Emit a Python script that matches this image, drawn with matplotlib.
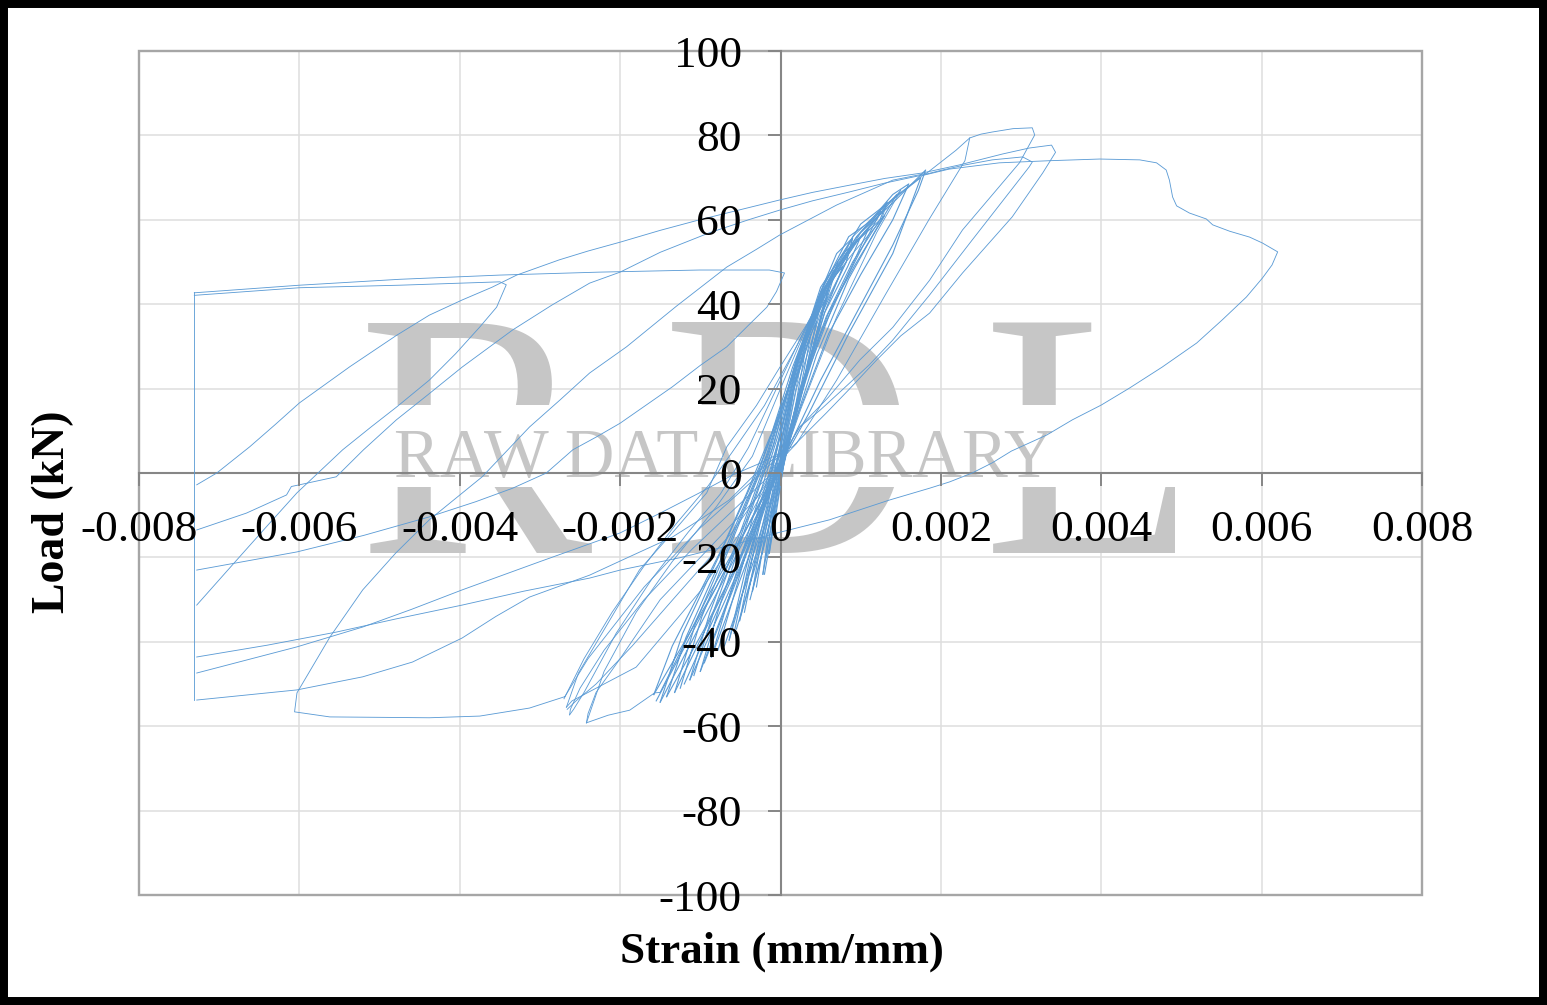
import matplotlib
matplotlib.use("Agg")
import matplotlib.pyplot as plt
from matplotlib.patches import Rectangle
from matplotlib.transforms import Bbox
import numpy as np

W, H = 1547, 1005
LINE = "#5B9BD5"
AXIS = "#868686"
GRID = "#DEDEDE"
MARK = "#C6C6C6"
SERIF = "Liberation Serif"

x_ticks = [-0.008, -0.006, -0.004, -0.002, 0, 0.002, 0.004, 0.006, 0.008]
x_tick_labels = ["-0.008", "-0.006", "-0.004", "-0.002", "0", "0.002", "0.004", "0.006", "0.008"]
y_ticks = [-100, -80, -60, -40, -20, 0, 20, 40, 60, 80, 100]
y_tick_labels = [str(v) for v in y_ticks]

# Strain is stored in units of 0.001 mm/mm, load in kN.
inner_strain = [
    [-0.10, -0.03, 0.06, 0.18, 0.30, 0.17, 0.04, -0.05, -0.14],
    [-0.14, -0.07, 0.03, 0.17, 0.32, 0.45, 0.27, 0.06, -0.08, -0.22],
    [-0.18, -0.08, 0.04, 0.18, 0.38, 0.24, 0.05, -0.07, -0.20],
    [-0.22, -0.13, -0.02, 0.14, 0.33, 0.55, 0.36, 0.10, -0.10, -0.35],
    [-0.30, -0.18, -0.05, 0.12, 0.32, 0.50, 0.30, 0.08, -0.12, -0.38],
    [-0.35, -0.22, -0.08, 0.10, 0.30, 0.62, 0.42, 0.12, -0.14, -0.51],
    [-0.45, -0.28, -0.10, 0.12, 0.32, 0.60, 0.40, 0.10, -0.12, -0.28, -0.55],
    [-0.51, -0.34, -0.16, 0.06, 0.28, 0.52, 0.78, 0.55, 0.18, -0.10, -0.35, -0.64],
    [-0.58, -0.40, -0.18, 0.05, 0.26, 0.50, 0.66, 0.45, 0.15, -0.06, -0.30, -0.70],
    [-0.64, -0.45, -0.22, 0.03, 0.25, 0.50, 0.70, 0.90, 0.82, 0.52, 0.20, -0.05, -0.40, -0.86],
    [-0.78, -0.55, -0.28, -0.02, 0.22, 0.52, 0.72, 0.48, 0.18, -0.02, -0.30, -0.60, -0.95],
    [-0.86, -0.62, -0.32, -0.03, 0.23, 0.50, 0.78, 1.00, 0.84, 0.55, 0.22, 0.02, -0.45, -1.00],
    [-1.00, -0.75, -0.42, -0.08, 0.20, 0.48, 0.85, 1.15, 1.33, 1.24, 0.90, 0.57, 0.24, 0.05, -0.50, -1.13],
    [-1.08, -0.82, -0.46, -0.10, 0.21, 0.50, 0.82, 1.10, 0.82, 0.50, 0.20, 0.02, -0.42, -0.75, -1.20],
    [-1.13, -0.88, -0.50, -0.12, 0.20, 0.55, 0.90, 1.30, 0.92, 0.60, 0.25, 0.03, -0.60, -1.32],
    [-1.25, -0.98, -0.58, -0.15, 0.19, 0.52, 0.95, 1.25, 0.98, 0.66, 0.30, 0.06, -0.50, -0.95, -1.42],
    [-1.32, -1.05, -0.62, -0.18, 0.18, 0.55, 0.95, 1.40, 1.60, 1.40, 1.00, 0.60, 0.22, 0.00, -0.70, -1.50],
    [-1.42, -1.18, -0.78, -0.30, 0.12, 0.50, 0.95, 1.45, 1.20, 0.85, 0.45, 0.08, -0.55, -1.05, -1.55],
    [-1.50, -1.22, -0.75, -0.25, 0.15, 0.55, 1.00, 1.40, 1.81, 1.72, 1.40, 0.95, 0.50, 0.10, -0.20, -0.80, -1.58],
    [-1.58, -1.35, -1.01, -0.72, -0.42, -0.10, 0.15, 0.55, 1.00, 1.75, 1.40, 0.85, 0.35, 0.03, -0.30, -0.90, -1.50],
]
inner_load = [
    [-13, -3, 10, 22, 28, 14, 2, -9, -19],
    [-19, -8, 5, 20, 30, 36, 20, 4, -9, -24],
    [-20, -8, 6, 21, 33, 19, 3, -10, -24],
    [-24, -11, 2, 18, 32, 41, 26, 7, -9, -28],
    [-27, -13, 1, 17, 31, 40, 23, 5, -11, -30],
    [-28, -14, 0, 16, 31, 45, 30, 8, -9, -35],
    [-33, -17, -2, 17, 31, 44, 29, 7, -9, -20, -37],
    [-35, -19, -4, 14, 31, 43, 49, 38, 14, -5, -20, -39.6],
    [-38, -22, -5, 13, 29, 42, 48, 33, 11, -3, -19, -41],
    [-39.6, -24, -7, 12, 29, 43, 52, 55.7, 50, 38, 16, 0, -20, -43.6],
    [-42, -27, -9, 8, 27, 42, 50, 35, 14, 1, -13, -28, -45],
    [-43.6, -28, -9, 9, 28, 44, 52, 56, 49, 38, 18, 3, -20, -47],
    [-47, -31, -12, 7, 27, 42, 56, 60, 64.2, 60, 50, 37, 20, 5, -22, -49],
    [-48, -32, -13, 6, 27, 42, 52, 58, 46, 33, 15, 2, -17, -31, -50],
    [-49, -33, -14, 6, 27, 44, 54, 61, 49, 38, 20, 4, -24, -52],
    [-51, -34, -15, 5, 26, 43, 56, 62, 52, 40, 22, 5, -20, -37, -53],
    [-52, -35, -16, 4, 25, 44, 56, 66, 68.5, 60, 47, 33, 14, 1, -25, -54.3],
    [-53, -39, -22, -1, 21, 41, 55, 66, 58, 46, 28, 6, -18, -36, -54],
    [-54.3, -38, -19, 2, 23, 43, 57, 64, 71.8, 67, 54, 38, 22, 6, -5, -27, -52.5],
    [-52.5, -41, -28.4, -17.5, -4.7, 10, 25, 45, 59, 70, 52, 33, 14, 3, -9, -29, -52],
]

# Wide cycles with their compression lobes near -0.0027.
lobe_strain = [
    [-2.67, -2.52, -2.18, -1.76, -1.35, -0.92, -0.67, -0.30, -0.01, 0.52, 0.86, 1.20, 1.33, 1.26, 0.90, 0.57, 0.24, 0.07, -0.10, -0.60, -1.10, -1.70, -2.20, -2.50, -2.62, -2.63],
    [-2.63, -2.58, -2.45, -2.05, -1.60, -1.15, -0.75, -0.40, 0.00, 0.35, 0.60, 0.90, 0.82, 0.50, 0.20, 0.05, -0.30, -0.90, -1.50, -2.00, -2.30, -2.40, -2.42],
    [-1.50, -1.57, -1.88, -2.15, -2.42],
    [2.36, 2.30, 1.85, 1.30, 0.70, 0.20, 0.00, -0.50, -1.00, -1.80, -2.30, -2.60, -2.67],
    [-2.70, -2.45, -2.10, -1.70, -1.30, -0.90, -0.60, -0.20, 0.20, 0.60, 1.00, 1.50, 1.20, 0.70, 0.25, 0.03, -0.60, -1.25, -1.85, -2.30, -2.55, -2.66],
]
lobe_load = [
    [-55.5, -47.4, -36.5, -23, -14.2, -4.7, 6.2, 16, 25, 41, 53, 60, 64.2, 60, 52, 44, 24.4, 8.5, 0, -9, -18, -30, -42, -51, -56, -57.3],
    [-57.3, -56, -52, -38, -25, -14, -5, 6, 22, 36, 45, 55.7, 50, 38, 20, 6, -6, -18, -30, -44, -52, -57, -59.2],
    [-52, -52.1, -56.2, -57.4, -59.2],
    [79.4, 74, 60, 42, 22, 7, 3, -14, -28, -46, -51, -54, -55.5],
    [-53.5, -44, -33, -22, -12, -3, 5, 16, 30, 45, 56, 67, 57, 37, 15, 3, -14, -28, -41, -50, -54, -56],
]

# Main monotonic rise to the peak, softening, then the long unloading branch.
main_strain = [-2.42, -2.20, -1.80, -1.35, -0.80, -0.35, 0.00, 0.45, 0.90, 1.40, 1.77, 2.10, 2.73, 3.35, 3.98, 4.48, 4.69, 4.81, 4.85, 4.89, 4.94, 5.10, 5.31, 5.39, 5.60, 5.85, 6.01, 6.20,
               6.13, 6.01, 5.81, 5.51, 5.19, 4.76, 4.35, 4.00, 3.64, 3.32, 3.10, 2.88, 2.64, 2.39, 2.11, 1.86, 1.36, 0.61, 0.00, -0.51, -1.26, -2.00, -2.38, -3.20, -3.97, -4.80, -5.54, -6.40, -7.28]
main_load = [-59.2, -47, -33, -21, -8, 4, 20, 40, 56, 65, 70.5, 72, 73.5, 74, 74.4, 74.2, 73.5, 71.8, 69.4, 65.4, 63.3, 61.6, 60.2, 58.8, 57.3, 55.9, 54.5, 52.4,
             49.3, 46.2, 41.7, 36.3, 30.8, 25.1, 20.1, 16.1, 12.6, 9, 7.1, 5.2, 2.4, 0, -2.1, -3.6, -6.4, -11.1, -14, -16.6, -20.1, -23, -24.9, -28, -31.3, -34.6, -37.7, -40.8, -43.6]

# Instrument limit on the compression side.
wall_strain = [-7.31, -7.31]
wall_load = [42.9, -53.9]

band_top_strain = [-7.31, -6.00, -4.75, -3.50, -2.26, -1.01, -0.14, 0.05,
                   -0.05, -0.17, -0.40, -0.67, -1.00, -1.35, -2.00, -2.30, -2.59, -2.92, -3.34, -3.80, -4.38, -5.20, -6.03, -7.28]
band_top_load = [42.7, 44.5, 45.9, 46.9, 47.6, 48.1, 48.1, 47.4,
                 43, 39.3, 35, 29.9, 25.5, 20.4, 11.8, 8.5, 5.5, 0, -3.6, -6.8, -10.4, -14.8, -18.7, -23]

band_second_strain = [-7.31, -6.00, -4.75, -3.50, -3.42, -3.54, -3.75, -4.05, -4.38, -4.79, -5.10, -5.46, -6.03, -6.40, -6.78, -7.28]
band_second_load = [42.1, 43.9, 44.5, 45.3, 44.6, 39.3, 34.6, 28.3, 22, 15.6, 11, 5.5, -4.7, -12.5, -20.6, -31.3]

reload_a_strain = [-7.28, -7.03, -6.62, -6.30, -6.00, -5.37, -4.79, -4.38, -3.97, -3.60, -3.29, -2.76, -2.40, -2.00, -1.50, -1.01, -0.50, -0.01, 0.40, 0.86, 1.30, 1.77, 2.23, 2.77, 3.10, 3.38, 3.43,
                   3.27, 2.89, 2.27, 1.86, 1.50, 1.20, 0.85, 0.57, 0.15, 0.05, -0.30, -0.64, -1.00, -1.35, -1.97, -2.38, -3.13, -3.55, -3.97, -4.59, -5.21, -6.03, -7.28]
reload_a_load = [-2.8, 0, 6.2, 11.5, 16.6, 25.2, 32.6, 37.4, 41, 44, 46.9, 50.5, 52.6, 54.7, 57.5, 60, 62.4, 64.7, 66.5, 68.2, 69.8, 71.1, 73, 75.6, 77, 77.7, 76,
                 71.1, 60.7, 47.4, 37.9, 32.5, 26.8, 19.7, 14.2, 6.2, 5.5, 0, -6.4, -11, -15.2, -20.6, -24.2, -29.4, -34, -39.1, -44.8, -48.3, -51.4, -53.8]

reload_b_strain = [-7.28, -6.66, -6.16, -6.10, -6.00, -5.54, -5.20, -4.79, -4.40, -3.97, -3.34, -2.85, -2.38, -2.00, -1.50, -0.89, -0.40, -0.01, 0.40, 0.86, 1.30, 1.77, 2.02, 2.30, 2.64, 3.02, 3.14,
                   3.10, 2.39, 1.86, 1.40, 1.10, 0.77, 0.50, 0.24, 0.07, -0.22, -0.60, -1.01, -1.50, -2.00, -3.00, -3.97, -4.60, -5.21, -6.03, -7.28]
reload_b_load = [-13.5, -9.5, -5.2, -3.2, -2.8, -0.9, 5.5, 12.6, 18.5, 25.1, 33.9, 39.8, 45, 47.6, 52.3, 56.9, 60, 62.3, 64.5, 66.6, 68.7, 70.6, 71.8, 73, 74.2, 74.9, 73.7,
                 72.5, 55.2, 42.2, 31.5, 25.5, 19.7, 15, 10.9, 5.5, 2.6, -0.5, -4.7, -9.5, -14.2, -21, -27.7, -32.3, -36.5, -41.2, -47.4]

reload_c_strain = [-2.69, -3.13, -3.75, -4.38, -5.62, -6.06, -6.03, -5.62, -5.21, -4.80, -4.38, -3.72, -3.13, -2.75, -2.38, -1.92, -1.30, -0.67, -0.30, -0.01, 0.70, 1.40, 1.82, 2.19, 2.36, 2.50, 2.64, 2.90, 3.14, 3.17,
                   2.98, 2.27, 1.86, 1.40, 0.99, 0.60, 0.24, 0.07, -0.30, -1.00, -1.70, -2.40, -2.69]
reload_c_load = [-53, -55.7, -57.6, -58, -57.8, -56.6, -52.1, -38.9, -27.7, -19, -11.1, -0.9, 10.9, 17.3, 23.7, 29.9, 39.5, 48.8, 53, 56.4, 63.5, 69.4, 71, 76.5, 79.4, 80.3, 80.8, 81.6, 81.8, 80.1,
                 73.5, 57.6, 45.7, 34.5, 26.8, 18, 10.9, 5.5, -1, -13, -27, -44, -53]

fig = plt.figure(figsize=(W / 100, H / 100), dpi=100, facecolor="white")
ax = fig.add_axes([139 / W, 1 - 895 / H, (1422 - 139) / W, (895 - 51) / H])
ax.set_xlim(-0.008, 0.008)
ax.set_ylim(-100, 100)
ax.set_xticks(x_ticks, x_tick_labels)
ax.set_yticks(y_ticks, y_tick_labels)
ax.set_axisbelow(False)

# Gridlines sit under the lettering; ticks and labels stay on top of the curves.
for v in x_ticks:
    ax.axvline(v, color=GRID, lw=1.1, zorder=1)
for v in y_ticks:
    ax.axhline(v, color=GRID, lw=1.1, zorder=1)

for side in ("top", "right"):
    ax.spines[side].set_visible(False)
for side in ("left", "bottom"):
    ax.spines[side].set_position("zero")
    ax.spines[side].set_color(AXIS)
    ax.spines[side].set_linewidth(1.5)
    ax.spines[side].set_zorder(2.2)
ax.tick_params(axis="x", direction="out", length=9.4, width=1.4, color=AXIS, pad=17.5,
               labelsize=32.6, labelfontfamily=SERIF)
ax.tick_params(axis="y", direction="out", length=9.4, width=1.4, color=AXIS, pad=18.5,
               labelsize=32.6, labelfontfamily=SERIF)

ax.add_patch(Rectangle((0, 0), 1, 1, transform=ax.transAxes, fill=False,
                       ec="#A6A6A6", lw=1.7, clip_on=False, zorder=2.1))

# Large faint lettering, split by a clear band that holds the smaller line of text.
for top, bottom in ((300, 405), (487, 575)):
    clip = Bbox([[0, H - bottom], [W, H - top]])
    for letter, px in (("R", 358), ("D", 662), ("L", 983)):
        t = ax.text(px / W, 1 - 553 / H, letter, transform=fig.transFigure, family=SERIF, fontsize=253,
                    color=MARK, ha="left", va="baseline", zorder=1.5, clip_on=True)
        t.set_clip_box(clip)
ax.text(724 / W, 1 - 477 / H, "RAW DATA LIBRARY", transform=fig.transFigure, family=SERIF, fontsize=49.5,
        color=MARK, ha="center", va="baseline", zorder=1.6)


def draw(strain, load, width=0.62):
    ax.plot(np.asarray(strain) * 1e-3, load, color=LINE, lw=width, solid_joinstyle="round", zorder=2.3)


for sx, sy in zip(inner_strain, inner_load):
    draw(sx, sy, 0.8)
for sx, sy in zip(lobe_strain, lobe_load):
    draw(sx, sy)
draw(main_strain, main_load)
draw(wall_strain, wall_load)
draw(band_top_strain, band_top_load)
draw(band_second_strain, band_second_load)
draw(reload_a_strain, reload_a_load)
draw(reload_b_strain, reload_b_load)
draw(reload_c_strain, reload_c_load)

fig.text(782 / W, 1 - 952 / H, "Strain (mm/mm)", family=SERIF, weight="bold", fontsize=32.4,
         ha="center", va="center")
fig.text(53 / W, 1 - 512 / H, "Load (kN)", family=SERIF, weight="bold", fontsize=33,
         rotation=90, ha="center", va="center")

# Heavy black outline around the whole figure.
fig.add_artist(Rectangle((0, 0), 1, 1, transform=fig.transFigure, fill=False, ec="black", lw=11.5, clip_on=True))

fig.savefig("out.png", dpi=100)
